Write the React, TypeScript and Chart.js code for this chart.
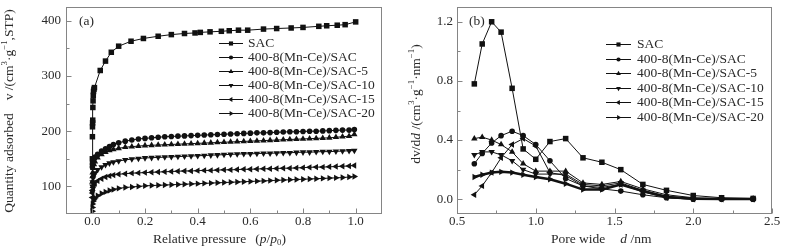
import React, { useEffect, useRef } from "react";
import { Chart, registerables } from "chart.js";

Chart.register(...registerables);

const FONT = '"Liberation Serif", "Times New Roman", Times, serif';
const INK = "#111111";
const AXIS = "#858585";
const TEXT = "#2a2a2a";

// ---------- series names ----------
const SERIES = [
  "SAC",
  "400-8(Mn-Ce)/SAC",
  "400-8(Mn-Ce)/SAC-5",
  "400-8(Mn-Ce)/SAC-10",
  "400-8(Mn-Ce)/SAC-15",
  "400-8(Mn-Ce)/SAC-20",
];

// ---------- (a) N2 adsorption isotherms ----------
const SAC_P = [0.0001, 0.0003, 0.0006, 0.001, 0.0015, 0.002, 0.0028, 0.0036, 0.0045, 0.006, 0.008, 0.03, 0.05, 0.072, 0.1, 0.147, 0.194, 0.25, 0.3, 0.35, 0.39, 0.41, 0.447, 0.49, 0.52, 0.555, 0.59, 0.65, 0.7, 0.755, 0.8, 0.86, 0.89, 0.93, 0.96, 1.0];
const SAC_V = [150, 190, 208, 215, 220, 243, 255, 265, 272, 276, 279, 310, 327, 343, 354, 363, 368, 372, 375, 377, 378, 379, 380, 381, 382, 383, 383, 385, 386, 387, 388, 390, 391, 392, 393, 398];

const MOD_P = [0.0001, 0.0005, 0.001, 0.003, 0.006, 0.01, 0.02, 0.035, 0.05, 0.065, 0.08, 0.1, 0.125, 0.15, 0.175, 0.2, 0.225, 0.25, 0.275, 0.3, 0.325, 0.35, 0.375, 0.4, 0.425, 0.45, 0.475, 0.5, 0.525, 0.55, 0.575, 0.6, 0.625, 0.65, 0.675, 0.7, 0.725, 0.75, 0.775, 0.8, 0.825, 0.85, 0.875, 0.9, 0.925, 0.95, 0.975, 0.995];
const MNCE_V = [135, 140, 143, 147, 150, 153, 158, 164, 168, 172, 176, 179, 182, 184, 186, 187, 188, 189, 190, 190.5, 191, 191.5, 192, 192.5, 193, 193.5, 194, 194.5, 195, 195.5, 196, 196.5, 197, 197, 197.5, 198, 198.5, 199, 199, 199.5, 200, 200, 200.5, 201, 201.5, 202, 202, 203];
const MNCE5_V = [108, 118, 125, 133, 140, 145, 152, 158, 162, 165, 167, 169, 171, 172, 173, 174, 174.5, 175, 175.5, 176, 176.5, 177, 177.5, 178, 178.5, 179, 179.5, 180, 180.5, 181, 181.5, 182, 182.5, 183, 183.5, 184, 184.5, 185, 185.5, 186, 186.5, 187, 187.5, 188, 189, 190, 191, 194];
const MNCE10_V = [90, 100, 108, 115, 120, 124, 130, 135, 139, 142, 144, 146, 148, 149.5, 150.5, 151.5, 152, 152.5, 153, 153.5, 154, 154.5, 155, 155.5, 156, 156.5, 157, 157.5, 158, 158.5, 159, 159, 159.5, 160, 160, 160.5, 161, 161, 161.5, 162, 162, 162.5, 163, 163, 163.5, 164, 164.5, 165];
const MNCE15_V = [80, 88, 93, 98, 102, 105, 110, 114, 117, 119, 120.5, 122, 123, 124, 124.5, 125, 125.5, 126, 126.5, 127, 127.5, 128, 128, 128.5, 129, 129, 129.5, 130, 130, 130.5, 131, 131, 131.5, 132, 132, 132.5, 133, 133, 133.5, 134, 134.5, 135, 135, 135.5, 136, 136.5, 137, 138];
const MNCE20_V = [55, 62, 68, 73, 76, 79, 83, 87, 90, 92.5, 94.5, 96.5, 98, 99, 100, 101, 101.5, 102, 102.5, 103, 103.5, 104, 104.5, 105, 105.5, 106, 106.5, 107, 107.5, 108, 108.5, 109, 109.5, 110, 110.5, 111, 111.5, 112, 112.5, 113, 113.5, 114, 114.5, 115, 115.5, 116, 117, 118];

const A_X_MAJOR = [0, 0.2, 0.4, 0.6, 0.8, 1.0];
const A_X_MINOR = [0.1, 0.3, 0.5, 0.7, 0.9];
const A_Y_MAJOR = [100, 200, 300, 400];
const A_Y_MINOR = [150, 250, 350];

// ---------- (b) pore size distribution ----------
const PORE_D = [0.61, 0.66, 0.72, 0.78, 0.85, 0.92, 1.0, 1.09, 1.19, 1.3, 1.42, 1.54, 1.68, 1.83, 2.0, 2.18, 2.38];
const SAC_DV = [0.78, 1.05, 1.2, 1.13, 0.75, 0.34, 0.27, 0.39, 0.41, 0.28, 0.25, 0.2, 0.1, 0.06, 0.025, 0.01, 0.005];
const MNCE_DV = [0.24, 0.31, 0.38, 0.43, 0.46, 0.43, 0.37, 0.26, 0.14, 0.09, 0.07, 0.055, 0.03, 0.01, 0.0, 0.0, 0.0];
const MNCE5_DV = [0.41, 0.42, 0.4, 0.37, 0.32, 0.24, 0.19, 0.19, 0.19, 0.11, 0.1, 0.12, 0.07, 0.03, 0.01, 0.005, 0.003];
const MNCE10_DV = [0.3, 0.32, 0.32, 0.3, 0.26, 0.2, 0.17, 0.17, 0.17, 0.1, 0.09, 0.11, 0.06, 0.02, 0.005, 0.003, 0.002];
const MNCE15_DV = [0.03, 0.09, 0.18, 0.28, 0.37, 0.41, 0.36, 0.18, 0.16, 0.09, 0.08, 0.1, 0.05, 0.01, 0.0, 0.0, 0.0];
const MNCE20_DV = [0.15, 0.165, 0.18, 0.185, 0.18, 0.165, 0.15, 0.135, 0.105, 0.065, 0.065, 0.1, 0.055, 0.015, 0.003, 0.002, 0.001];

const B_X_MAJOR = [0.5, 1.0, 1.5, 2.0, 2.5];
const B_X_MINOR = [0.75, 1.25, 1.75, 2.25];
const B_Y_MAJOR = [0.0, 0.4, 0.8, 1.2];
const B_Y_MINOR = [0.2, 0.6, 1.0];

// ---------- marker styles ----------
const MARKERS = [
  { style: "rect", rot: 0, r: 3.9 },
  { style: "circle", rot: 0, r: 2.8 },
  { style: "triangle", rot: 0, r: 3.7 },
  { style: "triangle", rot: 180, r: 3.7 },
  { style: "triangle", rot: 270, r: 3.7 },
  { style: "triangle", rot: 90, r: 3.7 },
];

type Seg = { t?: string; it?: boolean; sup?: boolean; sub?: boolean; gap?: number };

function segFont(s: Seg, size: number) {
  const sz = s.sup || s.sub ? size * 0.65 : size;
  return `${s.it ? "italic " : ""}${sz}px ${FONT}`;
}
function richWidth(ctx: CanvasRenderingContext2D, segs: Seg[], size: number) {
  let w = 0;
  for (const s of segs) {
    if (s.gap) { w += s.gap; continue; }
    ctx.font = segFont(s, size);
    w += ctx.measureText(s.t || "").width;
  }
  return w;
}
function drawRich(ctx: CanvasRenderingContext2D, segs: Seg[], x: number, y: number, size: number) {
  ctx.textBaseline = "middle";
  ctx.textAlign = "left";
  let cx = x;
  for (const s of segs) {
    if (s.gap) { cx += s.gap; continue; }
    ctx.font = segFont(s, size);
    const dy = s.sup ? -size * 0.33 : s.sub ? size * 0.28 : 0;
    ctx.fillText(s.t || "", cx, y + dy);
    cx += ctx.measureText(s.t || "").width;
  }
}

function drawMarker(ctx: CanvasRenderingContext2D, m: { style: string; rot: number }, x: number, y: number, r: number) {
  ctx.beginPath();
  if (m.style === "rect") {
    const s = r * Math.SQRT1_2;
    ctx.rect(x - s, y - s, 2 * s, 2 * s);
  } else if (m.style === "circle") {
    ctx.arc(x, y, r, 0, Math.PI * 2);
  } else {
    let a = (m.rot * Math.PI) / 180;
    for (let k = 0; k < 3; k++) {
      const px = x + Math.sin(a) * r;
      const py = y - Math.cos(a) * r;
      if (k === 0) ctx.moveTo(px, py); else ctx.lineTo(px, py);
      a += (2 * Math.PI) / 3;
    }
  }
  ctx.closePath();
  ctx.fill();
}

type PanelCfg = {
  id: string;
  xMajor: number[]; xMinor: number[]; yMajor: number[]; yMinor: number[];
  legend: { x1: number; x2: number; tx: number; y0: number; dy: number };
  panel: { text: string; x: number; y: number };
  xTitle: { segs: Seg[]; x: number; y: number };
  yTitle: { segs: Seg[]; cx: number; cy: number };
};

function makePlugin(cfg: PanelCfg) {
  return {
    id: "decor" + cfg.id,
    afterDraw(chart: any) {
      const ctx: CanvasRenderingContext2D = chart.ctx;
      const a = chart.chartArea;
      const xs = chart.scales.x;
      const ys = chart.scales.y;
      ctx.save();
      const L = Math.round(a.left) + 0.5;
      const R = Math.round(a.right) - 0.5;
      const T = Math.round(a.top) + 0.5;
      const B = Math.round(a.bottom) - 0.5;
      ctx.strokeStyle = AXIS;
      ctx.lineWidth = 1;
      ctx.strokeRect(L, T, R - L, B - T);
      ctx.beginPath();
      const tickX = (v: number, len: number) => {
        const px = Math.round(xs.getPixelForValue(v)) + 0.5;
        ctx.moveTo(px, B); ctx.lineTo(px, B - len);
      };
      const tickY = (v: number, len: number) => {
        const py = Math.round(ys.getPixelForValue(v)) + 0.5;
        ctx.moveTo(L, py); ctx.lineTo(L + len, py);
      };
      cfg.xMajor.forEach((v) => tickX(v, 5));
      cfg.xMinor.forEach((v) => tickX(v, 3));
      cfg.yMajor.forEach((v) => tickY(v, 5));
      cfg.yMinor.forEach((v) => tickY(v, 3));
      ctx.stroke();

      // legend
      const lg = cfg.legend;
      SERIES.forEach((name, i) => {
        const y = Math.round(lg.y0 + i * lg.dy) + 0.5;
        ctx.strokeStyle = INK;
        ctx.lineWidth = 1;
        ctx.beginPath();
        ctx.moveTo(lg.x1, y);
        ctx.lineTo(lg.x2, y);
        ctx.stroke();
        ctx.fillStyle = INK;
        drawMarker(ctx, MARKERS[i], (lg.x1 + lg.x2) / 2, y, MARKERS[i].r * 0.75);
        ctx.fillStyle = TEXT;
        ctx.font = `13.5px ${FONT}`;
        ctx.textBaseline = "middle";
        ctx.textAlign = "left";
        ctx.fillText(name, lg.tx, y);
      });

      // panel label
      ctx.fillStyle = TEXT;
      ctx.font = `13.5px ${FONT}`;
      ctx.textBaseline = "middle";
      ctx.textAlign = "left";
      ctx.fillText(cfg.panel.text, cfg.panel.x, cfg.panel.y);

      // axis titles
      drawRich(ctx, cfg.xTitle.segs, cfg.xTitle.x, cfg.xTitle.y, 13.5);
      const w = richWidth(ctx, cfg.yTitle.segs, 13.5);
      ctx.save();
      ctx.translate(cfg.yTitle.cx, cfg.yTitle.cy);
      ctx.rotate(-Math.PI / 2);
      drawRich(ctx, cfg.yTitle.segs, -w / 2, 0, 13.5);
      ctx.restore();
      ctx.restore();
    },
  };
}

function dataset(i: number, xs: number[], ys: number[], lw = 1) {
  const m = MARKERS[i];
  return {
    label: SERIES[i],
    data: xs.map((x, k) => ({ x, y: ys[k] })),
    showLine: true,
    borderColor: INK,
    borderWidth: lw,
    backgroundColor: INK,
    pointStyle: m.style,
    rotation: m.rot,
    pointRadius: m.r,
    pointHoverRadius: m.r,
    pointBorderWidth: 0,
    pointBackgroundColor: INK,
    tension: 0,
  };
}

function buildOptions(p: {
  xMin: number; xMax: number; yMin: number; yMax: number;
  xMajor: number[]; yMajor: number[];
  xFmt: (v: number) => string; yFmt: (v: number) => string;
  yWidth: number; pad: any; yPad: number;
}) {
  const tickFont = { family: FONT, size: 13 };
  return {
    animation: false,
    responsive: false,
    maintainAspectRatio: false,
    devicePixelRatio: 1,
    layout: { padding: p.pad },
    plugins: { legend: { display: false }, tooltip: { enabled: false }, title: { display: false } },
    events: [],
    scales: {
      x: {
        type: "linear",
        min: p.xMin,
        max: p.xMax,
        grid: { display: false, drawTicks: false },
        border: { display: false },
        ticks: { padding: 0, font: tickFont, color: TEXT, maxRotation: 0, autoSkip: false, callback: (v: any) => p.xFmt(Number(v)) },
        afterBuildTicks: (s: any) => { s.ticks = p.xMajor.map((v) => ({ value: v })); },
        afterFit: (s: any) => { s.height = 37; s.paddingLeft = 0; s.paddingRight = 0; },
      },
      y: {
        type: "linear",
        min: p.yMin,
        max: p.yMax,
        grid: { display: false, drawTicks: false },
        border: { display: false },
        ticks: { padding: p.yPad, font: tickFont, color: TEXT, autoSkip: false, callback: (v: any) => p.yFmt(Number(v)) },
        afterBuildTicks: (s: any) => { s.ticks = p.yMajor.map((v) => ({ value: v })); },
        afterFit: (s: any) => { s.width = p.yWidth; s.paddingTop = 0; s.paddingBottom = 0; },
      },
    },
  };
}

export default function App() {
  const leftRef = useRef<HTMLCanvasElement>(null);
  const rightRef = useRef<HTMLCanvasElement>(null);

  useEffect(() => {
    const left = new Chart(leftRef.current as HTMLCanvasElement, {
      type: "scatter",
      data: {
        datasets: [
          dataset(0, SAC_P, SAC_V),
          dataset(1, MOD_P, MNCE_V),
          dataset(2, MOD_P, MNCE5_V),
          dataset(3, MOD_P, MNCE10_V),
          dataset(4, MOD_P, MNCE15_V),
          dataset(5, MOD_P, MNCE20_V),
        ],
      } as any,
      options: buildOptions({
        xMin: -0.1, xMax: 1.1, yMin: 50, yMax: 425,
        xMajor: A_X_MAJOR, yMajor: A_Y_MAJOR,
        xFmt: (v) => v.toFixed(1), yFmt: (v) => String(Math.round(v)),
        yWidth: 66, pad: { top: 7, right: 13, left: 0, bottom: 0 }, yPad: 5,
      }) as any,
      plugins: [
        makePlugin({
          id: "a",
          xMajor: A_X_MAJOR, xMinor: A_X_MINOR, yMajor: A_Y_MAJOR, yMinor: A_Y_MINOR,
          legend: { x1: 219, x2: 243, tx: 248, y0: 42.7, dy: 14.1 },
          panel: { text: "(a)", x: 79, y: 21 },
          xTitle: {
            segs: [
              { t: "Relative pressure" }, { gap: 9 },
              { t: "(" }, { t: "p", it: true }, { t: "/" }, { t: "p", it: true }, { t: "0", sub: true }, { t: ")" },
            ],
            x: 153, y: 239,
          },
          yTitle: {
            segs: [
              { t: "Quantity adsorbed" }, { gap: 13 },
              { t: "v /(cm" }, { t: "3", sup: true }, { t: "·g" }, { t: "−1", sup: true }, { t: ",STP)" },
            ],
            cx: 9, cy: 111,
          },
        }),
      ],
    });

    const right = new Chart(rightRef.current as HTMLCanvasElement, {
      type: "scatter",
      data: {
        datasets: [
          dataset(0, PORE_D, SAC_DV),
          dataset(1, PORE_D, MNCE_DV),
          dataset(2, PORE_D, MNCE5_DV),
          dataset(3, PORE_D, MNCE10_DV),
          dataset(4, PORE_D, MNCE15_DV),
          dataset(5, PORE_D, MNCE20_DV, 2.5),
        ],
      } as any,
      options: buildOptions({
        xMin: 0.5, xMax: 2.5, yMin: -0.1, yMax: 1.3,
        xMajor: B_X_MAJOR, yMajor: B_Y_MAJOR,
        xFmt: (v) => v.toFixed(1), yFmt: (v) => v.toFixed(1),
        yWidth: 62, pad: { top: 7, right: 19, left: 0, bottom: 0 }, yPad: 4,
      }) as any,
      plugins: [
        makePlugin({
          id: "b",
          xMajor: B_X_MAJOR, xMinor: B_X_MINOR, yMajor: B_Y_MAJOR, yMinor: B_Y_MINOR,
          legend: { x1: 211, x2: 236, tx: 242, y0: 44, dy: 14.6 },
          panel: { text: "(b)", x: 74, y: 21 },
          xTitle: {
            segs: [{ t: "Pore wide" }, { gap: 15 }, { t: "d", it: true }, { t: " /nm" }],
            x: 156, y: 239,
          },
          yTitle: {
            segs: [
              { t: "dv/d" }, { t: "d", it: true }, { t: " /(cm" }, { t: "3", sup: true }, { t: "·g" },
              { t: "−1", sup: true }, { t: "·nm" }, { t: "−1", sup: true }, { t: ")" },
            ],
            cx: 21, cy: 104,
          },
        }),
      ],
    });

    return () => {
      left.destroy();
      right.destroy();
    };
  }, []);

  return (
    <div style={{ position: "absolute", left: 0, top: 0, width: 791, height: 251, background: "#ffffff", overflow: "hidden" }}>
      <canvas ref={leftRef} width={395} height={251} style={{ position: "absolute", left: 0, top: 0, width: 395, height: 251 }} />
      <canvas ref={rightRef} width={396} height={251} style={{ position: "absolute", left: 395, top: 0, width: 396, height: 251 }} />
    </div>
  );
}
